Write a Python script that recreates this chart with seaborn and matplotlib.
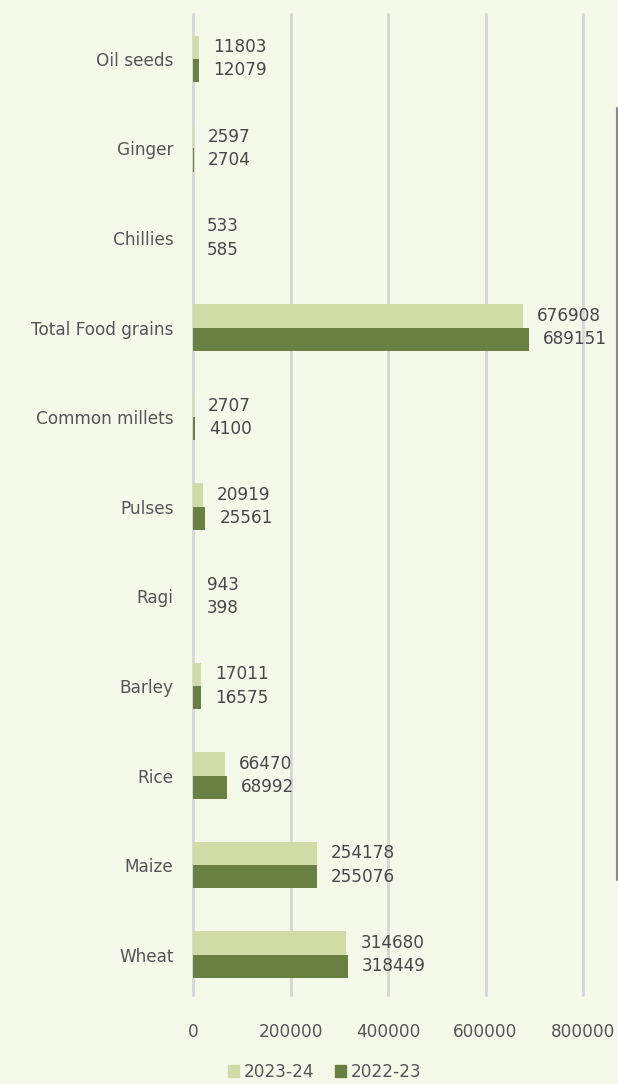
import pandas as pd
import matplotlib
matplotlib.use("Agg")
import matplotlib.pyplot as plt
import seaborn as sns

# === data ===
crops = ["Oil seeds", "Ginger", "Chillies", "Total Food grains", "Common millets",
         "Pulses", "Ragi", "Barley", "Rice", "Maize", "Wheat"]
vals_2023_24 = [11803, 2597, 533, 676908, 2707, 20919, 943, 17011, 66470, 254178, 314680]
vals_2022_23 = [12079, 2704, 585, 689151, 4100, 25561, 398, 16575, 68992, 255076, 318449]
years = ["2023-24", "2022-23"]
xticks = [0, 200000, 400000, 600000, 800000]

df = pd.DataFrame({
    "crop": crops * 2,
    "year": [years[0]] * len(crops) + [years[1]] * len(crops),
    "value": vals_2023_24 + vals_2022_23,
})

bg = "#f5f9ea"
colors = {"2023-24": "#d0dca6", "2022-23": "#6a8042"}
txt = "#484848"
fs = 12.2

sns.set_theme(style="white")
plt.rcParams["font.family"] = ["DejaVu Sans"]

fig = plt.figure(figsize=(6.18, 10.84), dpi=100, facecolor=bg)
ax = fig.add_axes([193 / 618, 1 - 995 / 1084, (583 - 193) / 618, (995 - 14) / 1084])
ax.set_facecolor(bg)

sns.barplot(data=df, y="crop", x="value", hue="year", hue_order=years,
            order=crops, palette=colors, width=0.52, orient="h",
            legend=False, ax=ax, saturation=1, linewidth=0)

for cont in ax.containers:
    ax.bar_label(cont, fmt="%d", padding=10, fontsize=fs, color=txt)

ax.set_xlim(0, 800000)
ax.set_ylim(10.45, -0.5)
ax.set_xticks(xticks)
ax.set_xticklabels([str(t) for t in xticks])
ax.xaxis.grid(True, color="#d6d6d6", lw=2)
for gl in ax.get_xgridlines():
    gl.set_clip_on(False)
ax.set_axisbelow(True)
for s in ax.spines.values():
    s.set_visible(False)
ax.tick_params(axis="x", length=0, pad=20, labelsize=fs, labelcolor="#555555")
ax.tick_params(axis="y", length=0, pad=14, labelsize=fs, labelcolor="#555555")
ax.set_xlabel("")
ax.set_ylabel("")

handles = [plt.Rectangle((0, 0), 1, 1, color=colors[y]) for y in years]
fig.legend(handles, years, loc="lower center", bbox_to_anchor=(0.525, -0.011),
           ncol=2, frameon=False, fontsize=fs, handlelength=0.7, handleheight=0.7,
           handletextpad=0.25, columnspacing=1.2, labelcolor="#555555")

# thin edge line seen on the right of the reference
fig.add_artist(plt.Line2D([617 / 618, 617 / 618], [1 - 880 / 1084, 1 - 108 / 1084],
                          color="#8a8a8a", lw=1.5))

fig.savefig("out.png", dpi=100, facecolor=bg)
